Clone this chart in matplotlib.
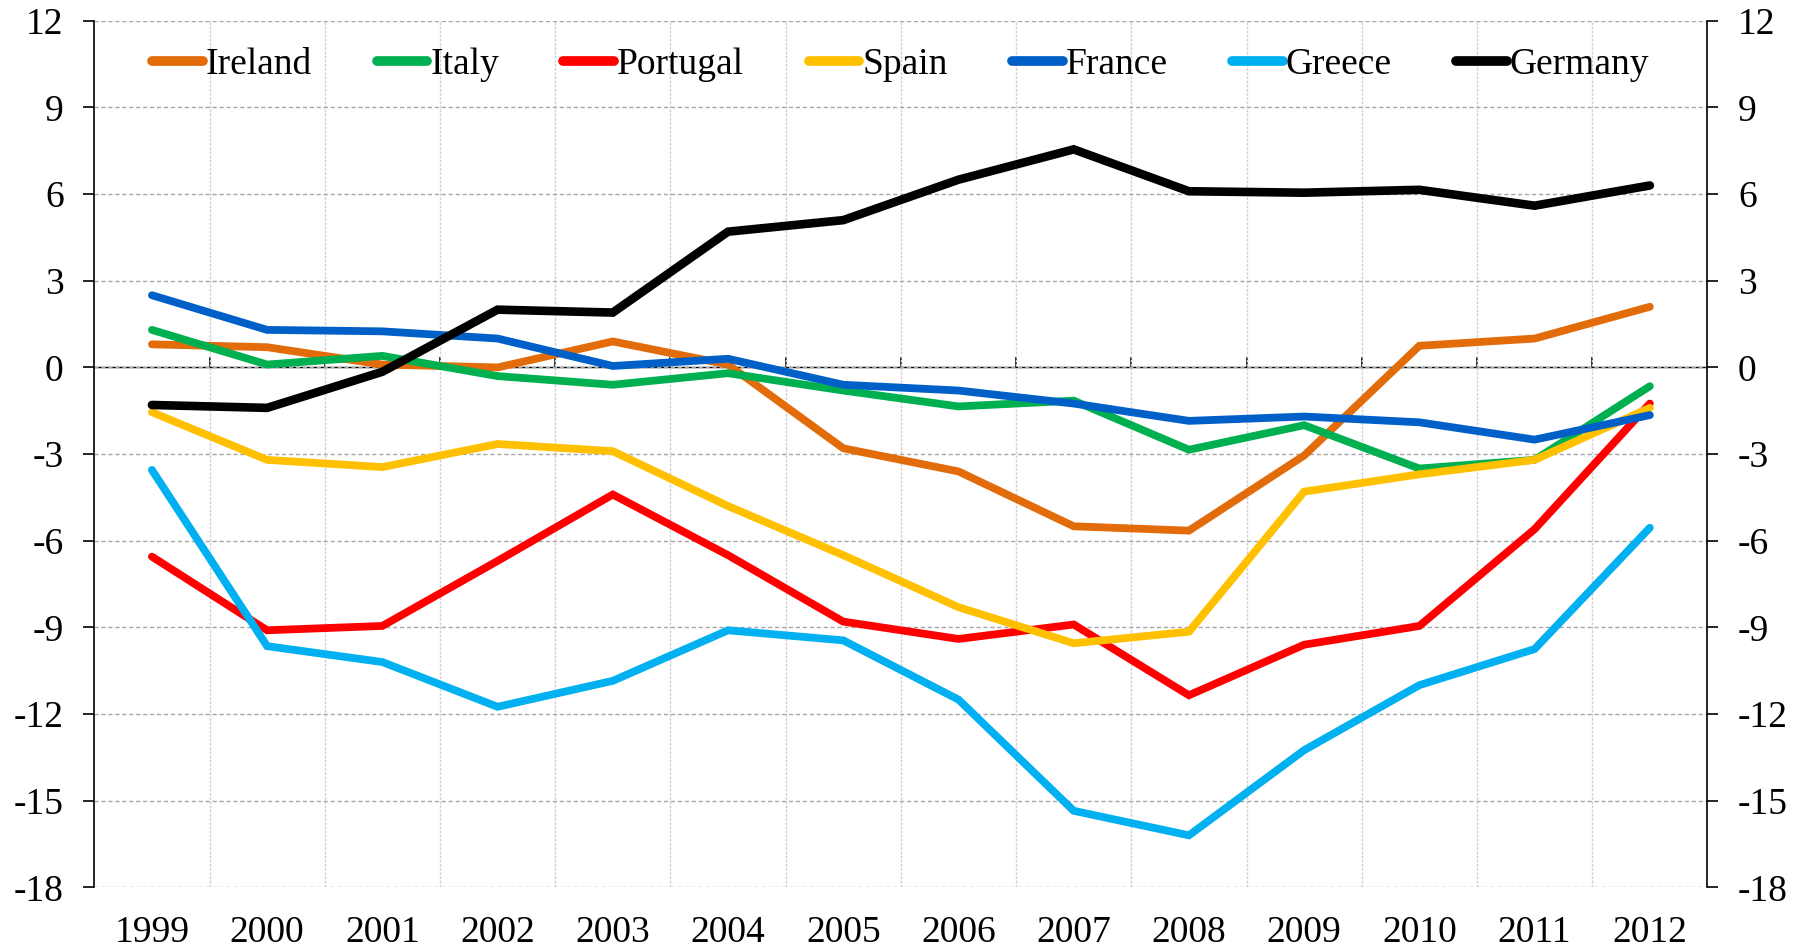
import matplotlib
matplotlib.use("Agg")
import matplotlib.pyplot as plt
import numpy as np

years = list(range(1999, 2013))
ireland = [0.8, 0.7, 0.1, 0.0, 0.9, 0.1, -2.8, -3.6, -5.5, -5.65, -3.05, 0.75, 1.0, 2.1]
italy = [1.3, 0.1, 0.4, -0.3, -0.6, -0.2, -0.8, -1.35, -1.15, -2.85, -2.0, -3.5, -3.2, -0.65]
portugal = [-6.55, -9.1, -8.95, -6.7, -4.4, -6.5, -8.8, -9.4, -8.9, -11.35, -9.6, -8.95, -5.6, -1.25]
spain = [-1.55, -3.2, -3.45, -2.65, -2.9, -4.8, -6.5, -8.3, -9.55, -9.15, -4.3, -3.7, -3.2, -1.4]
france = [2.5, 1.3, 1.25, 1.0, 0.05, 0.3, -0.6, -0.8, -1.25, -1.85, -1.7, -1.9, -2.5, -1.65]
greece = [-3.55, -9.65, -10.2, -11.75, -10.85, -9.1, -9.45, -11.5, -15.35, -16.2, -13.25, -11.0, -9.75, -5.55]
germany = [-1.3, -1.4, -0.15, 2.0, 1.9, 4.7, 5.1, 6.5, 7.55, 6.1, 6.05, 6.15, 5.6, 6.3]

series_names = ["Ireland", "Italy", "Portugal", "Spain", "France", "Greece", "Germany"]
series_values = [ireland, italy, portugal, spain, france, greece, germany]
colors = ["#E36C0A", "#00B050", "#FF0000", "#FFC000", "#0060C8", "#00B0F0", "#000000"]
yticks = list(range(-18, 13, 3))

plt.rcParams['font.family'] = ['Liberation Serif', 'DejaVu Serif']
fig = plt.figure(figsize=(18.03, 9.47), dpi=100)
ax = fig.add_axes([0.0523, 0.063, 0.8947, 0.915])

x = np.array(years)
for name, vals, c in zip(series_names, series_values, colors):
    lw = 6.2 if name == "Germany" else 5.6
    ax.plot(x, vals, color=c, lw=lw, label=name, solid_capstyle='round',
            solid_joinstyle='miter', zorder=3)

ax.set_xlim(years[0] - 0.5, years[-1] + 0.5)
ax.set_ylim(yticks[0], yticks[-1])
ax.set_yticks(yticks)
ax.set_yticklabels([str(v) for v in yticks])
ax.set_xticks(years)
ax.set_xticklabels([str(y) for y in years])
mids = np.arange(years[0] + 0.5, years[-1], 1.0)
ax.set_xticks(mids, minor=True)

ax.tick_params(axis='x', which='both', length=0, labelsize=27, pad=20)
ax.tick_params(axis='y', which='major', direction='out', length=8, width=1.2,
               labelsize=27, pad=14, left=True, right=True,
               labelleft=True, labelright=True)

for s in ['top', 'bottom']:
    ax.spines[s].set_visible(False)
for s in ['left', 'right']:
    ax.spines[s].set_linewidth(1.2)
    ax.spines[s].set_color('black')

ax.grid(axis='y', which='major', color='#A6A6A6', linestyle=(0, (3, 2)), lw=1.0, zorder=0)
ax.grid(axis='x', which='minor', color='#D0D0D0', linestyle=(0, (2, 1)), lw=1.0, zorder=0)
ax.grid(axis='x', which='major', visible=False)
ax.set_axisbelow(True)

# zero axis with category tick marks
zero_frac = (0 - yticks[0]) / (yticks[-1] - yticks[0])
sec = ax.secondary_xaxis(zero_frac)
sec.set_xticks(mids)
sec.set_xticklabels([])
sec.tick_params(axis='x', direction='out', length=7, width=1.2, color='black')
for sp in ['bottom', 'top']:
    sec.spines[sp].set_linestyle((0, (1, 1)))
    sec.spines[sp].set_linewidth(1.0)
    sec.spines[sp].set_color('black')

leg = ax.legend(loc='upper center', bbox_to_anchor=(0.5, 0.995), ncol=7, frameon=False,
                fontsize=27, handlelength=1.35, handletextpad=0.08, columnspacing=1.72,
                borderaxespad=0.2)
for h in leg.legend_handles:
    h.set_linewidth(7)
    h.set_solid_capstyle('round')

fig.savefig("out.png", dpi=100)
